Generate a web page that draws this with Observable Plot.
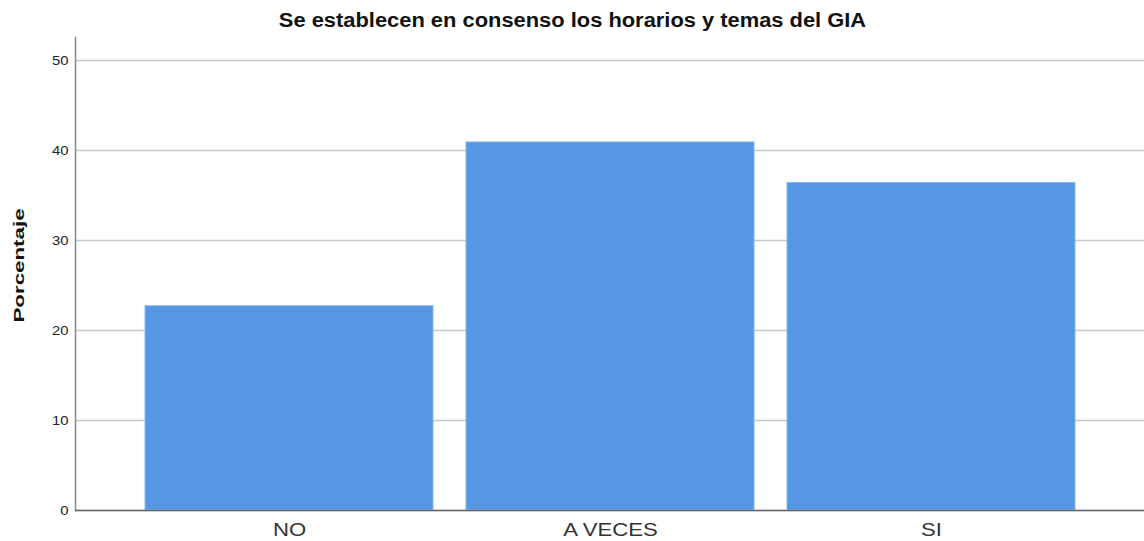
<!DOCTYPE html>
<html><head><meta charset="utf-8">
<script src="https://cdn.jsdelivr.net/npm/d3@7"></script>
<script src="https://cdn.jsdelivr.net/npm/@observablehq/plot@0.6"></script>
<style>body{margin:0;background:#fff;}</style>
</head><body><div id="c"></div>
<script>
const categories = ["NO", "A VECES", "SI"];
const porcentajes = [22.7, 40.9, 36.4];
const yTicks = [0, 10, 20, 30, 40, 50];
const titleText = ["Se establecen en consenso los horarios y temas del GIA"];
const yLabelText = ["Porcentaje"];

const data = categories.map((c, i) => ({categoria: c, porcentaje: porcentajes[i]}));

const chart = Plot.plot({
  width: 1144, height: 541,
  marginTop: 37, marginBottom: 31, marginLeft: 75, marginRight: 0,
  style: {fontFamily: "'Liberation Sans', Arial, sans-serif", background: "#fff", color: "#222"},
  x: {domain: categories, paddingInner: 0.103, paddingOuter: 0.2165, align: 0.5, label: null},
  y: {domain: [0, 52.56], label: null},
  marks: [
    Plot.gridY(yTicks, {stroke: "#c8c8c8", strokeOpacity: 1, strokeWidth: 1.5}),
    Plot.barY(data, {x: "categoria", y: "porcentaje", fill: "#5596e5", stroke: "#8bb6ec", strokeWidth: 1}),
    Plot.frame({anchor: "left", stroke: "#888", strokeWidth: 1.5}),
    Plot.ruleY([0], {stroke: "#666", strokeWidth: 1.5}),
    Plot.axisY(yTicks, {tickSize: 0, tickPadding: 7, fontSize: 13.5, label: null, fill: "#222"}),
    Plot.axisX({tickSize: 0, tickPadding: 12, fontSize: 18.6, label: null, fill: "#333"}),
    Plot.text(titleText, {frameAnchor: "top", lineAnchor: "middle", dx: -37.5, dy: -16.5, fontSize: 20, fontWeight: "bold", fill: "#111"}),
    Plot.text(yLabelText, {frameAnchor: "left", textAnchor: "middle", lineAnchor: "middle", dx: -56, dy: -8.5, rotate: -90, fontSize: 15.5, fontWeight: "bold", fill: "#111"})
  ]
});
document.getElementById("c").appendChild(chart);

// the reference's text is drawn horizontally stretched: widen glyphs by a factor
function stretch(nodes, k) {
  nodes.forEach(function (el) {
    const L = el.getComputedTextLength();
    el.setAttribute("textLength", L * k);
    el.setAttribute("lengthAdjust", "spacingAndGlyphs");
  });
}
const svg = d3.select(chart);
stretch(svg.selectAll('g[aria-label="x-axis tick label"] text').nodes(), 1.19);
stretch(svg.selectAll('g[aria-label="y-axis tick label"] text').nodes(), 1.1);
const textGroups = svg.selectAll('g[aria-label="text"]').nodes();
stretch(d3.select(textGroups[0]).selectAll("text").nodes(), 1.094);
stretch(d3.select(textGroups[1]).selectAll("text").nodes(), 1.44);
</script>
</body></html>
